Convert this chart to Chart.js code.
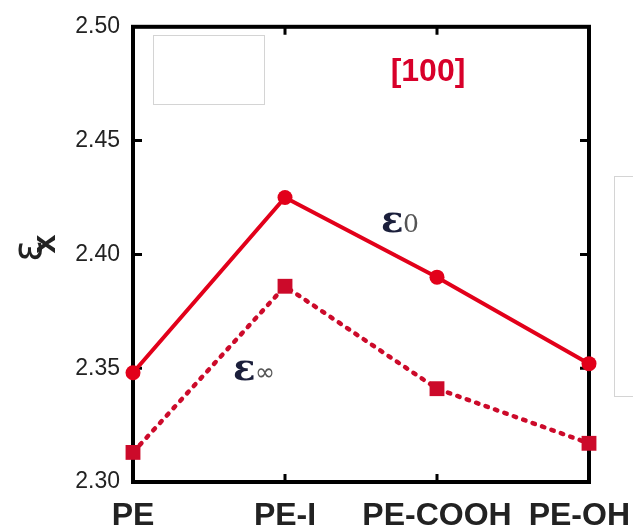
<!DOCTYPE html>
<html>
<head>
<meta charset="utf-8">
<script src="https://cdn.jsdelivr.net/npm/chart.js@4.4.1/dist/chart.umd.min.js"></script>
<style>
  html, body { margin: 0; padding: 0; background: #fff; }
  #wrap { width: 633px; height: 527px; position: relative; }
</style>
</head>
<body>
<div id="wrap"><canvas id="c"></canvas></div>
<script>
const categories = ['PE', 'PE-I', 'PE-COOH', 'PE-OH'];
const eps0 = [2.348, 2.425, 2.390, 2.352];
const epsInf = [2.313, 2.386, 2.341, 2.317];
const yTicks = [2.30, 2.35, 2.40, 2.45, 2.50];

const RED = '#e2001a';
const DARK_RED = '#cc0a2a';

// frame, inward ticks, category labels and annotations
const decor = {
  id: 'decor',
  beforeDatasetsDraw(chart) {
    const { ctx, chartArea: a, scales: { x, y } } = chart;
    ctx.save();
    ctx.strokeStyle = '#000';
    ctx.lineWidth = 3;
    for (let i = 1; i < categories.length - 1; i++) {
      const px = x.getPixelForValue(i);
      ctx.beginPath();
      ctx.moveTo(px, a.top); ctx.lineTo(px, a.top + 8);
      ctx.moveTo(px, a.bottom); ctx.lineTo(px, a.bottom - 8);
      ctx.stroke();
    }
    yTicks.slice(1, -1).forEach(v => {
      const py = y.getPixelForValue(v);
      ctx.beginPath();
      ctx.moveTo(a.left, py); ctx.lineTo(a.left + 9, py);
      ctx.moveTo(a.right, py); ctx.lineTo(a.right - 9, py);
      ctx.stroke();
    });
    ctx.lineWidth = 4;
    ctx.strokeRect(a.left, a.top, a.right - a.left, a.bottom - a.top);

    // empty boxes
    ctx.lineWidth = 1;
    ctx.strokeStyle = '#d4d4d4';
    ctx.strokeRect(153.5, 35.5, 111, 69);
    ctx.strokeRect(614.5, 176.5, 30, 220);
    ctx.restore();
  },
  afterDraw(chart) {
    const { ctx, scales: { x } } = chart;
    ctx.save();
    // category labels
    ctx.fillStyle = '#222';
    ctx.font = 'bold 32px "Liberation Sans", Arial, sans-serif';
    ctx.textBaseline = 'alphabetic';
    categories.forEach((c, i) => {
      let px = x.getPixelForValue(i);
      ctx.textAlign = 'center';
      if (i === categories.length - 1) { ctx.textAlign = 'right'; px = 630; }
      ctx.fillText(c, px, 525);
    });

    // [100]
    ctx.fillStyle = '#d8002a';
    ctx.font = 'bold 32px "Liberation Sans", Arial, sans-serif';
    ctx.textAlign = 'center';
    ctx.textBaseline = 'middle';
    ctx.fillText('[100]', 428, 72);

    // series labels
    ctx.textAlign = 'left';
    ctx.textBaseline = 'alphabetic';
    ctx.fillStyle = '#1b1f3b';
    ctx.font = 'bold 37px "DejaVu Serif", serif';
    ctx.fillText('ε', 381, 232);
    ctx.fillText('ε', 233, 380);
    ctx.fillStyle = '#555';
    ctx.font = '25px "DejaVu Serif", serif';
    ctx.fillText('0', 403, 232);
    ctx.font = '24px "DejaVu Sans", sans-serif';
    ctx.fillText('∞', 255, 380);

    // y axis title
    ctx.fillStyle = '#222';
    ctx.textAlign = 'center';
    ctx.textBaseline = 'middle';
    ctx.save();
    ctx.translate(31, 251);
    ctx.rotate(-Math.PI / 2);
    ctx.font = '40px "DejaVu Sans", sans-serif';
    ctx.fillText('ε', 0, 0);
    ctx.restore();
    ctx.save();
    ctx.translate(46, 244);
    ctx.rotate(-Math.PI / 2);
    ctx.font = 'bold 34px "Liberation Sans", Arial, sans-serif';
    ctx.fillText('x', 0, 0);
    ctx.restore();
    ctx.restore();
  }
};

new Chart(document.getElementById('c'), {
  type: 'line',
  data: {
    labels: categories,
    datasets: [
      {
        label: 'ε0',
        data: eps0,
        borderColor: RED,
        backgroundColor: RED,
        borderWidth: 4,
        pointStyle: 'circle',
        pointRadius: 7.5,
        pointBorderWidth: 0,
        tension: 0,
        clip: false
      },
      {
        label: 'ε∞',
        data: epsInf,
        borderColor: DARK_RED,
        backgroundColor: DARK_RED,
        borderWidth: 4.5,
        borderDash: [2.5, 7.5],
        borderCapStyle: 'round',
        pointStyle: 'rect',
        pointRadius: 10.5,
        pointBorderWidth: 0,
        tension: 0,
        clip: false
      }
    ]
  },
  options: {
    responsive: true,
    maintainAspectRatio: false,
    animation: false,
    layout: { padding: { left: 0, right: 44, top: 25, bottom: 45 } },
    plugins: { legend: { display: false }, tooltip: { enabled: false } },
    scales: {
      x: {
        type: 'category',
        offset: false,
        grid: { display: false, drawTicks: false },
        border: { display: false },
        ticks: { display: false }
      },
      y: {
        min: 2.30,
        max: 2.50,
        afterBuildTicks: s => { s.ticks = yTicks.map(v => ({ value: v })); },
        afterFit: s => { s.width = 133; },
        grid: { display: false, drawTicks: false },
        border: { display: false },
        ticks: {
          padding: 13,
          color: '#222',
          font: { family: '"Liberation Sans", Arial, sans-serif', size: 23 },
          callback: v => v.toFixed(2)
        }
      }
    }
  },
  plugins: [decor]
});
</script>
</body>
</html>
